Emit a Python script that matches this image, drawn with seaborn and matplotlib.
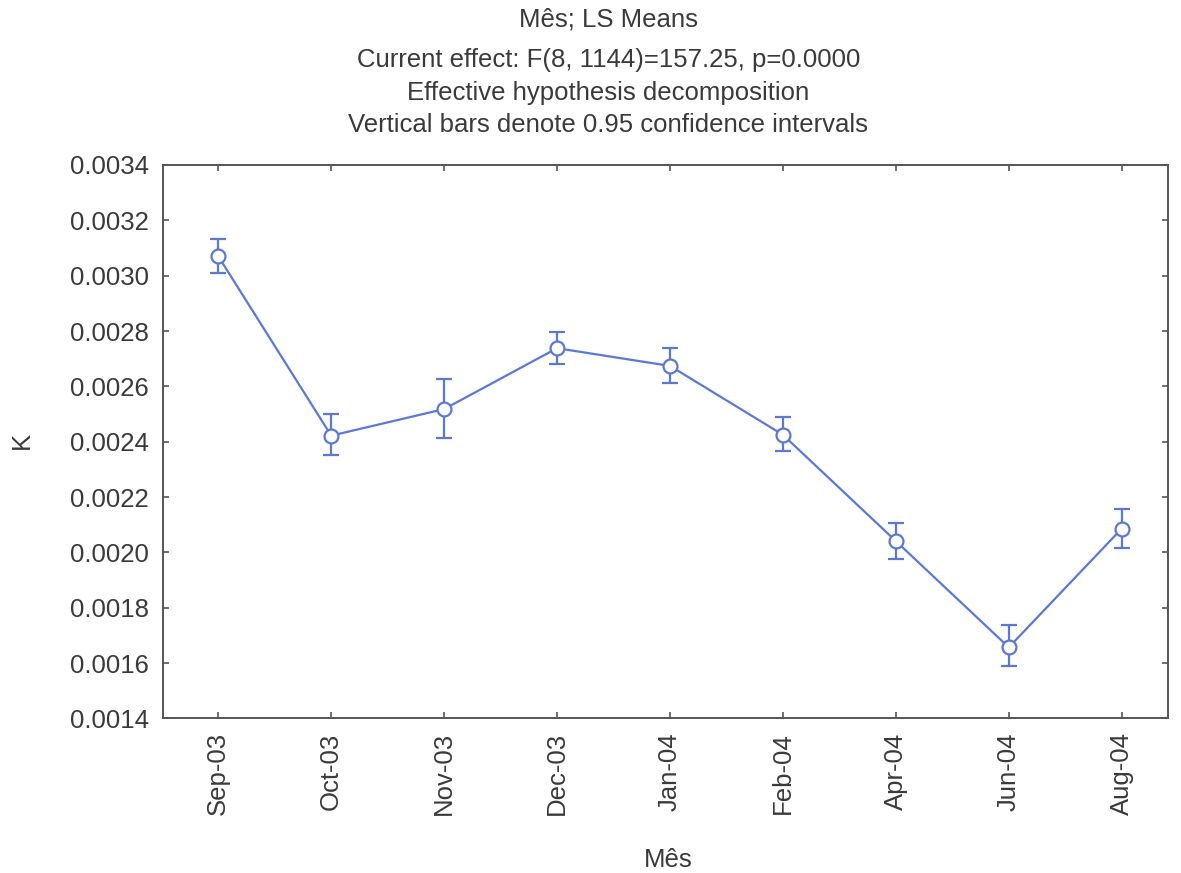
import seaborn as sns
import matplotlib.pyplot as plt
import pandas as pd

months = ['Sep-03', 'Oct-03', 'Nov-03', 'Dec-03', 'Jan-04', 'Feb-04', 'Apr-04', 'Jun-04', 'Aug-04']
k_mean = [0.003070, 0.002422, 0.002518, 0.002738, 0.002674, 0.002425, 0.002041, 0.001657, 0.002086]
ci_low = [0.003010, 0.002353, 0.002413, 0.002681, 0.002613, 0.002365, 0.001977, 0.001590, 0.002015]
ci_high = [0.003132, 0.002500, 0.002627, 0.002796, 0.002737, 0.002491, 0.002108, 0.001736, 0.002156]
y_ticks = [0.0014, 0.0016, 0.0018, 0.0020, 0.0022, 0.0024, 0.0026, 0.0028, 0.0030, 0.0032, 0.0034]

df = pd.DataFrame({'Mês': months, 'K': k_mean, 'lo': ci_low, 'hi': ci_high})

sns.set_style("ticks")
plt.rcParams['font.family'] = ['Liberation Sans', 'DejaVu Sans']
text_col = '#3a3a3a'
blue = '#5b78d6'

fig = plt.figure(figsize=(11.81, 8.73), dpi=100)
ax = fig.add_axes([0.138, 0.177, 0.851, 0.634])

err_lo = df['K'] - df['lo']
err_hi = df['hi'] - df['K']
ax.errorbar(range(len(df)), df['K'], yerr=[err_lo, err_hi], fmt='none',
            ecolor=blue, elinewidth=1.6, capsize=6, capthick=1.6, zorder=2)
sns.pointplot(data=df, x='Mês', y='K', color=blue, errorbar=None, ax=ax,
              markers='o', markersize=10, linewidth=1.6,
              markerfacecolor='white', markeredgewidth=1.6, markeredgecolor=blue)

ax.set_xlim(-0.49, 8.41)
ax.set_ylim(0.0014, 0.0034)
ax.set_yticks(y_ticks)
ax.set_yticklabels([f'{t:.4f}' for t in y_ticks])
ax.tick_params(axis='both', direction='in', length=4, width=1.2, color='#555555',
               labelsize=18.5, labelcolor=text_col, top=True, right=True)
ax.tick_params(axis='x', labelrotation=90, pad=10)
ax.tick_params(axis='y', pad=10)
for s in ax.spines.values():
    s.set_color('#555555')
    s.set_linewidth(1.4)

ax.set_xlabel('')
ax.set_ylabel('')
fig.text(0.566, 1 - 860 / 873, 'Mês', ha='center', va='center', fontsize=18.5, color=text_col)
fig.text(22 / 1181, 1 - 440 / 873, 'K', ha='center', va='center', rotation=90,
         fontsize=18.5, color=text_col)

title_lines = ['Mês; LS Means', 'Current effect: F(8, 1144)=157.25, p=0.0000',
               'Effective hypothesis decomposition',
               'Vertical bars denote 0.95 confidence intervals']
title_y = [20, 60, 93, 125]
for line, yy in zip(title_lines, title_y):
    fig.text(0.515, 1 - yy / 873, line, ha='center', va='center', fontsize=18.5, color=text_col)

fig.savefig('out.png', dpi=100)
